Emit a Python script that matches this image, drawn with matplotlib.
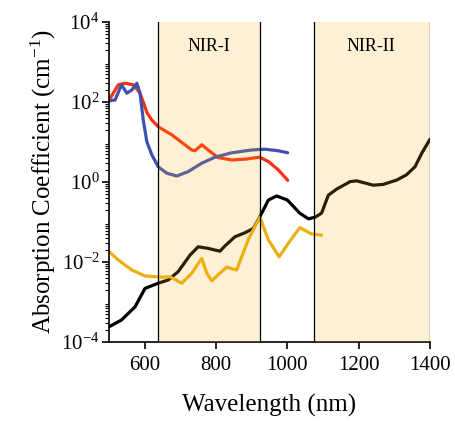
import matplotlib
matplotlib.use('Agg')
import matplotlib.pyplot as plt
import numpy as np

plt.rcParams['font.family'] = 'Liberation Serif'
plt.rcParams['mathtext.fontset'] = 'custom'
plt.rcParams['mathtext.rm'] = 'Liberation Serif'
plt.rcParams['mathtext.it'] = 'Liberation Serif:italic'

# spectral regions (nm)
NIR1 = (637, 923)
NIR2 = (1075, 1400)

# red curve
RED_X = [503, 526, 545, 568, 587, 596, 606, 620, 638, 676, 732, 741, 760, 778,
         806, 844, 881, 923, 947, 975, 1001]
RED_Y = [123, 269, 295, 269, 166, 100, 55, 35.5, 24.0, 15.1, 6.31, 6.03, 8.51,
         6.31, 4.07, 3.55, 3.72, 4.17, 3.24, 2.00, 1.10]

# blue curve
BLUE_X = [500, 517, 535, 550, 564, 578, 587, 596, 606, 620, 638, 662, 690,
          722, 760, 797, 844, 900, 937, 975, 1001]
BLUE_Y = [107, 112, 269, 166, 200, 295, 166, 35.5, 10.2, 4.79, 2.40, 1.66,
          1.41, 1.82, 2.95, 4.17, 5.37, 6.31, 6.61, 6.03, 5.37]

# black curve
BLACK_X = [500, 535, 573, 601, 638, 666, 694, 727, 750, 778, 811, 825, 853,
           881, 905, 923, 947, 970, 1000, 1035, 1059, 1078, 1096, 1115, 1138,
           1176, 1194, 1241, 1269, 1307, 1334, 1358, 1377, 1400]
BLACK_Y = [2.40e-4, 3.55e-4, 7.59e-4, 2.19e-3, 2.95e-3, 3.55e-3, 5.75e-3,
           1.48e-2, 2.40e-2, 2.19e-2, 1.86e-2, 2.51e-2, 4.27e-2, 5.37e-2,
           6.92e-2, 0.135, 0.355, 0.447, 0.355, 0.166, 0.120, 0.132, 0.166,
           0.468, 0.661, 1.02, 1.07, 0.832, 0.871, 1.12, 1.51, 2.40, 5.25, 11.7]

# yellow curve
YEL_X = [500, 526, 564, 601, 648, 671, 704, 732, 760, 774, 788, 811, 830,
         858, 890, 923, 947, 977, 1003, 1035, 1068, 1096]
YEL_Y = [1.82e-2, 1.12e-2, 6.31e-3, 4.47e-3, 4.17e-3, 4.27e-3, 2.95e-3,
         5.25e-3, 1.23e-2, 5.25e-3, 3.39e-3, 5.25e-3, 7.41e-3, 6.31e-3,
         3.55e-2, 0.132, 3.55e-2, 1.35e-2, 2.95e-2, 7.24e-2, 5.01e-2, 4.68e-2]


def main():
    """
    draw the absorption chart
    """
    fig = plt.figure(figsize=(4.55, 4.23), dpi=100)
    ax = fig.add_axes([0.2396, 0.1915, 0.7054, 0.7565])

    style = dict(lw=2.3, zorder=2, solid_joinstyle='round', solid_capstyle='round')
    ax.plot(RED_X, RED_Y, color='#ff3010', **style)
    ax.plot(BLUE_X, BLUE_Y, color='#4050b0', **style)
    ax.plot(BLACK_X, BLACK_Y, color='black', **style)
    ax.plot(YEL_X, YEL_Y, color='#eab010', **style)

    # shaded windows drawn over the curves
    for lo, hi in (NIR1, NIR2):
        ax.axvspan(lo, hi, color='#f4b11b', alpha=0.18, lw=0, zorder=3)
        ax.axvline(lo, color='black', lw=0.9, zorder=4)
        ax.axvline(hi, color='black', lw=0.9, zorder=4)

    ax.text(780, 10 ** 3.375, 'NIR-I', ha='center', va='center', fontsize=13)
    ax.text(1234, 10 ** 3.375, 'NIR-II', ha='center', va='center', fontsize=13)

    ax.set_yscale('log')
    ax.set_xlim(500, 1400)
    ax.set_ylim(1e-4, 1e4)
    ax.set_xticks([600, 800, 1000, 1200, 1400])
    ax.set_yticks([1e-4, 1e-2, 1e0, 1e2, 1e4])
    ax.yaxis.set_minor_locator(matplotlib.ticker.LogLocator(
        base=10, subs=np.arange(2, 10), numticks=20))
    ax.yaxis.set_minor_formatter(matplotlib.ticker.NullFormatter())

    ax.spines['top'].set_visible(False)
    ax.spines['right'].set_visible(False)
    ax.spines['left'].set_linewidth(1.2)
    ax.spines['bottom'].set_linewidth(1.2)
    ax.tick_params(axis='x', which='major', direction='out', length=5,
                   width=1.2, labelsize=15, pad=5)
    ax.tick_params(axis='y', which='major', direction='out', length=5,
                   width=1.2, labelsize=15, pad=2)
    ax.tick_params(axis='y', which='minor', direction='out', length=3, width=0.8)

    ax.set_xlabel('Wavelength (nm)', fontsize=18, labelpad=14)
    ax.set_ylabel('Absorption Coefficient (cm$^{-1}$)', fontsize=18, labelpad=2)

    fig.savefig('out.png', dpi=100)


if __name__ == "__main__":
    main()
